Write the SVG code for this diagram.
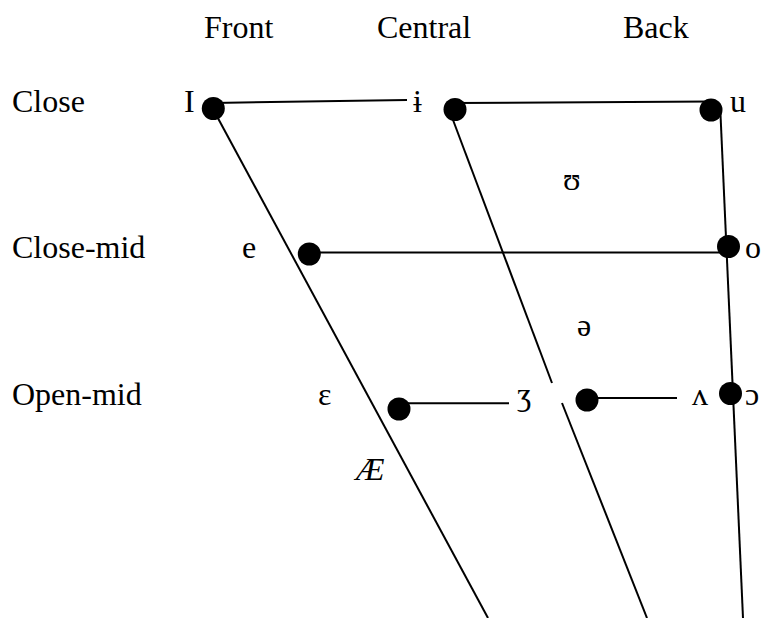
<svg xmlns="http://www.w3.org/2000/svg" width="762" height="618" viewBox="0 0 762 618">
<style>
text{font-family:"Liberation Serif","DejaVu Serif",serif;font-size:32px;fill:#000}
.ln{stroke:#000;stroke-width:2;fill:none}
.dot{fill:#000}
.it{font-style:italic}
</style>
<rect width="762" height="618" fill="#fff"/>
<g id="headers">
<text x="204" y="38">Front</text>
<text x="377" y="38">Central</text>
<text x="623" y="38">Back</text>
</g>
<g id="rows">
<text x="12" y="112">Close</text>
<text x="12" y="258">Close-mid</text>
<text x="12" y="405">Open-mid</text>
</g>
<g id="connectors">
<line class="ln" x1="213" y1="103" x2="407" y2="100"/>
<line class="ln" x1="455" y1="103" x2="711" y2="101.5"/>
<line class="ln" x1="213" y1="109" x2="488" y2="618"/>
<line class="ln" x1="450" y1="112" x2="552" y2="383"/>
<line class="ln" x1="562" y1="403" x2="647" y2="618"/>
<line class="ln" x1="720.3" y1="110" x2="743" y2="618"/>
<line class="ln" x1="309" y1="252.5" x2="728" y2="252.5"/>
<line class="ln" x1="399" y1="403.3" x2="509" y2="403.3"/>
<line class="ln" x1="587" y1="398" x2="677" y2="398"/>
</g>
<g id="node-I"><circle class="dot" cx="213.3" cy="108.5" r="11.5"/><text x="184" y="112">I</text></g>
<g id="node-i-bar"><text x="413" y="112">ɨ</text></g>
<g id="node-central-close"><circle class="dot" cx="455" cy="109.5" r="11.5"/></g>
<g id="node-u"><circle class="dot" cx="711" cy="110" r="11.5"/><text x="730" y="112">u</text></g>
<g id="node-upsilon"><text x="563" y="190">ʊ</text></g>
<g id="node-e"><circle class="dot" cx="309.3" cy="254" r="11.5"/><text x="242" y="258">e</text></g>
<g id="node-o"><circle class="dot" cx="728.5" cy="246.5" r="11.5"/><text x="745" y="258">o</text></g>
<g id="node-schwa"><text x="577" y="336">ə</text></g>
<g id="node-epsilon"><circle class="dot" cx="399" cy="409" r="11.5"/><text x="318" y="405">ε</text></g>
<g id="node-ezh"><text x="517" y="405">ʒ</text></g>
<g id="node-central-open"><circle class="dot" cx="587" cy="400" r="11.5"/></g>
<g id="node-wedge"><text x="692" y="405">ʌ</text></g>
<g id="node-open-o"><circle class="dot" cx="730.5" cy="393.5" r="11.5"/><text x="745" y="405">ɔ</text></g>
<g id="node-ae"><text class="it" x="356" y="480">Æ</text></g>
</svg>
